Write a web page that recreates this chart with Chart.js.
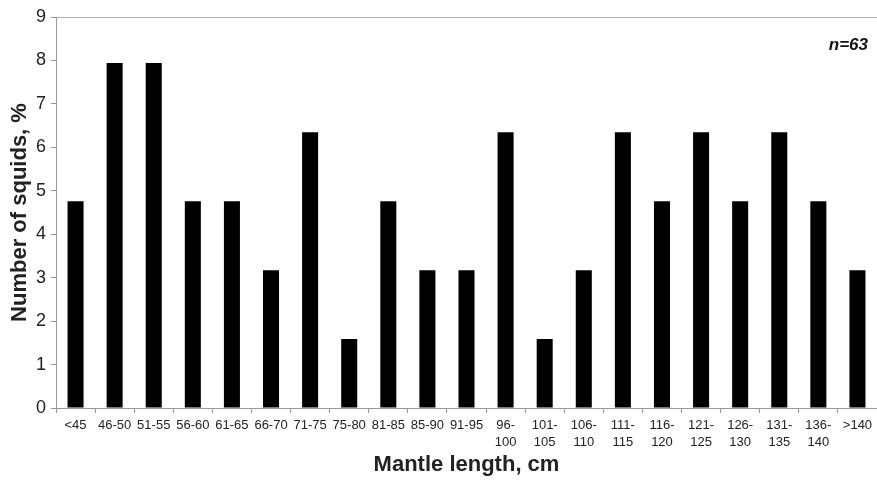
<!DOCTYPE html>
<html>
<head>
<meta charset="utf-8">
<script src="https://cdn.jsdelivr.net/npm/chart.js@4/dist/chart.umd.min.js"></script>
<style>
  html, body { margin: 0; padding: 0; background: #ffffff; }
  #wrap { width: 877px; height: 480px; position: relative; }
</style>
</head>
<body>
<div id="wrap"><canvas id="squidChart"></canvas></div>
<script>
// clases de longitud del manto (cm)
const categorias = [
  "<45", "46-50", "51-55", "56-60", "61-65", "66-70", "71-75", "75-80",
  "81-85", "85-90", "91-95", ["96-", "100"], ["101-", "105"], ["106-", "110"],
  ["111-", "115"], ["116-", "120"], ["121-", "125"], ["126-", "130"],
  ["131-", "135"], ["136-", "140"], ">140"
];
// porcentaje de calamares por clase (n=63)
const porcentajes = [
  4.76, 7.94, 7.94, 4.76, 4.76, 3.17, 6.35, 1.59, 4.76, 3.17, 3.17,
  6.35, 1.59, 3.17, 6.35, 4.76, 6.35, 4.76, 6.35, 4.76, 3.17
];
const ticksY = [0, 1, 2, 3, 4, 5, 6, 7, 8, 9];
const tamMuestra = "n=63";

const fuente = "'Liberation Sans', Arial, sans-serif";

// borde superior gris y el texto n=63
const marcoPlugin = {
  id: "marco",
  afterDraw(chart) {
    const { ctx, chartArea } = chart;
    ctx.save();
    ctx.strokeStyle = "#b0b0b0";
    ctx.lineWidth = 1;
    ctx.beginPath();
    ctx.moveTo(chartArea.left, chartArea.top + 0.5);
    ctx.lineTo(chartArea.right, chartArea.top + 0.5);
    ctx.stroke();
    ctx.fillStyle = "#111111";
    ctx.font = "italic bold 17px " + fuente;
    ctx.textAlign = "right";
    ctx.textBaseline = "middle";
    ctx.fillText(tamMuestra, chartArea.right - 9, chartArea.top + 28);
    ctx.restore();
  },
};

const ctx = document.getElementById("squidChart").getContext("2d");
new Chart(ctx, {
  type: "bar",
  data: {
    labels: categorias,
    datasets: [
      {
        label: "Number of squids, %",
        data: porcentajes,
        backgroundColor: "#000000",
        borderColor: "#000000",
        borderWidth: 0,
        barPercentage: 0.41,
        categoryPercentage: 1.0,
      },
    ],
  },
  options: {
    responsive: true,
    maintainAspectRatio: false,
    animation: false,
    layout: { padding: { top: 17, right: 0, left: 0, bottom: 0 } },
    plugins: {
      legend: { display: false },
      tooltip: { enabled: false },
    },
    scales: {
      x: {
        grid: {
          drawOnChartArea: false,
          drawTicks: true,
          tickLength: 5,
          color: "#999999",
          offset: true,
        },
        border: { color: "#999999", width: 1 },
        ticks: {
          color: "#222222",
          font: { family: fuente, size: 13, lineHeight: 1.3 },
          maxRotation: 0,
          minRotation: 0,
          autoSkip: false,
          padding: 4,
        },
        title: {
          display: true,
          text: "Mantle length, cm",
          color: "#222222",
          font: { family: fuente, size: 22, weight: "bold" },
          padding: { top: 0, bottom: 2 },
        },
        afterFit(scale) {
          scale.height = 72;
        },
      },
      y: {
        min: 0,
        max: 9,
        afterBuildTicks(scale) {
          scale.ticks = ticksY.map((v) => ({ value: v }));
        },
        grid: {
          drawOnChartArea: false,
          drawTicks: true,
          tickLength: 5,
          color: "#999999",
        },
        border: { color: "#999999", width: 1 },
        ticks: {
          color: "#222222",
          font: { family: fuente, size: 18 },
          padding: 5,
        },
        title: {
          display: true,
          text: "Number of squids, %",
          color: "#222222",
          font: { family: fuente, size: 22, weight: "bold" },
          padding: { top: 7, bottom: 0 },
        },
        afterFit(scale) {
          scale.width = 56;
        },
      },
    },
  },
  plugins: [marcoPlugin],
});
</script>
</body>
</html>
